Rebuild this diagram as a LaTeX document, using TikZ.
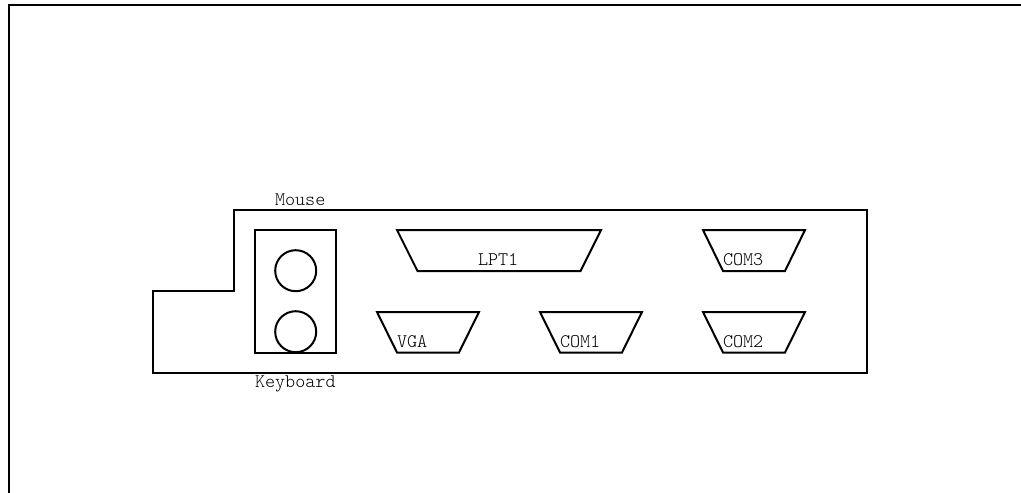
\documentclass[tikz,border=0pt]{standalone}
\begin{document}
\begin{tikzpicture}[x=1pt,y=-1pt,line join=miter,
  ln/.style={draw=black,line width=2pt},
  lbl/.style={anchor=base west,inner sep=0pt,outer sep=0pt,font=\fontseries{l}\ttfamily\fontsize{19.2}{20}\selectfont,text=black}]
\useasboundingbox (0,0) rectangle (1021,493);
\clip (0,0) rectangle (1021,493);
% page frame
\draw[ln] (9,493) -- (9,5) -- (1021,5);
% panel outline
\draw[ln] (234,210) -- (867,210) -- (867,373) -- (153,373) -- (153,291) -- (234,291) -- cycle;
% PS/2 block
\draw[ln] (255,230) rectangle (336,352.5);
\draw[ln] (295.7,270.7) circle (20.5);
\draw[ln] (295.7,331.7) circle (20.5);
% connectors
\draw[ln] (397,230) -- (601,230) -- (580.5,271) -- (417.5,271) -- cycle;
\draw[ln] (703,230) -- (805,230) -- (785,271) -- (723,271) -- cycle;
\draw[ln] (377,312) -- (479,312) -- (459,352.5) -- (397,352.5) -- cycle;
\draw[ln] (540,312) -- (642,312) -- (622,352.5) -- (560,352.5) -- cycle;
\draw[ln] (703,312) -- (805,312) -- (785,352.5) -- (723,352.5) -- cycle;
% labels
\node[lbl] (mouse) at (275,205) {Mouse};
\node[lbl] (keyboard) at (255,387) {Keyboard};
\node[lbl] (lpt) at (478,265) {LPT1};
\node[lbl] (com3) at (723,265) {COM3};
\node[lbl] (vga) at (397,347) {VGA};
\node[lbl] (com1) at (560,347) {COM1};
\node[lbl] (com2) at (723,347) {COM2};
\end{tikzpicture}
\end{document}
